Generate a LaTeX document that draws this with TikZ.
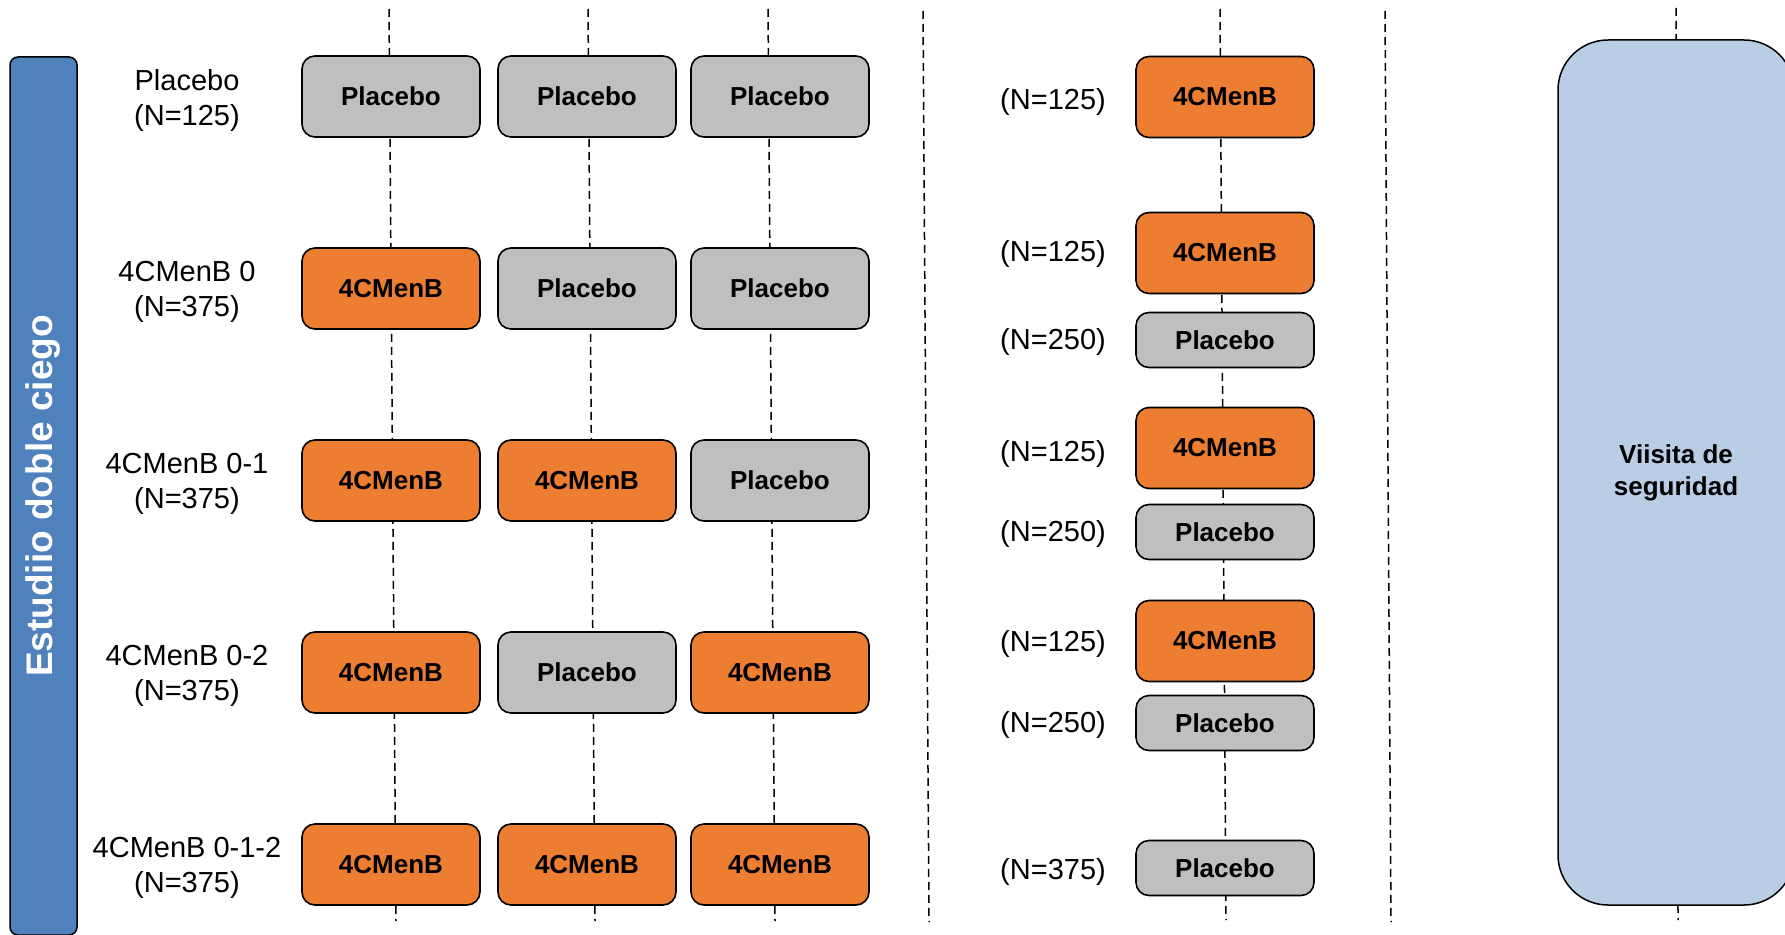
\documentclass[tikz,border=0pt]{standalone}
\usepackage{fontspec}
\setmainfont{Liberation Sans}
\definecolor{naranja}{HTML}{ED7D31}
\definecolor{gris}{HTML}{BFBFBF}
\definecolor{azul}{HTML}{4F81BD}
\definecolor{celeste}{HTML}{B9CDE5}
\tikzset{
  vacuna/.style={draw=black, line width=1.6pt, rounded corners=13pt, fill=naranja,
    minimum width=178pt, minimum height=81pt, inner sep=2pt,
    font=\fontsize{26}{30}\selectfont\bfseries},
  placebo/.style={vacuna, fill=gris},
  placebochico/.style={placebo, minimum height=55pt},
  grupo/.style={align=center, font=\fontsize{29}{35}\selectfont},
  cuenta/.style={font=\fontsize{29}{35}\selectfont},
  linea/.style={line width=1.5pt, dash pattern=on 8pt off 5pt}
}
\begin{document}
\begin{tikzpicture}[x=1pt, y=-1pt]
	\useasboundingbox (0,0) rectangle (1785,934);
	\clip (0,0) rectangle (1785,934);

	% time lines
	\coordinate (t1) at (389,9);   \coordinate (b1) at (396,921);
	\coordinate (t2) at (588,9);   \coordinate (b2) at (595,921);
	\coordinate (t3) at (768,9);   \coordinate (b3) at (775,921);
	\coordinate (ts1) at (923,11); \coordinate (bs1) at (929,922);
	\coordinate (t4) at (1220,9);  \coordinate (b4) at (1226,920);
	\coordinate (ts2) at (1385,11);\coordinate (bs2) at (1391,922);
	\coordinate (t5) at (1676,8);  \coordinate (b5) at (1678,920);
	\draw[linea] (t1) -- (b1);
	\draw[linea] (t2) -- (b2);
	\draw[linea] (t3) -- (b3);
	\draw[linea] (ts1) -- (bs1);
	\draw[linea] (t4) -- (b4);
	\draw[linea] (ts2) -- (bs2);
	\draw[linea] (t5) -- (b5);

	% double blind bar
	\node[draw=black, line width=1.5pt, fill=azul, rounded corners=8pt, rotate=90,
		minimum width=878pt, minimum height=67pt, inner sep=2pt, text=white,
		font=\fontsize{37}{40}\selectfont\bfseries] (estudio) at (43.5,496) {Estudiio doble ciego};

	% group labels
	\node[grupo] (g1) at (187,100) {Placebo\\(N=125)};
	\node[grupo] (g2) at (187,292) {4CMenB 0\\(N=375)};
	\node[grupo] (g3) at (187,484) {4CMenB 0-1\\(N=375)};
	\node[grupo] (g4) at (187,676) {4CMenB 0-2\\(N=375)};
	\node[grupo] (g5) at (187,868) {4CMenB 0-1-2\\(N=375)};

	% doses
	\node[placebo] (a1) at (391,96.5) {Placebo};
	\node[placebo] (a2) at (587,96.5) {Placebo};
	\node[placebo] (a3) at (780,96.5) {Placebo};
	\node[vacuna]  (b1n) at (391,288.5) {4CMenB};
	\node[placebo] (b2n) at (587,288.5) {Placebo};
	\node[placebo] (b3n) at (780,288.5) {Placebo};
	\node[vacuna]  (c1) at (391,480.5) {4CMenB};
	\node[vacuna]  (c2) at (587,480.5) {4CMenB};
	\node[placebo] (c3) at (780,480.5) {Placebo};
	\node[vacuna]  (d1) at (391,672.5) {4CMenB};
	\node[placebo] (d2) at (587,672.5) {Placebo};
	\node[vacuna]  (d3) at (780,672.5) {4CMenB};
	\node[vacuna]  (e1) at (391,864.5) {4CMenB};
	\node[vacuna]  (e2) at (587,864.5) {4CMenB};
	\node[vacuna]  (e3) at (780,864.5) {4CMenB};

	% booster
	\node[vacuna]       (r1) at (1225,97) {4CMenB};
	\node[vacuna]       (r2) at (1225,253) {4CMenB};
	\node[placebochico] (r3) at (1225,340) {Placebo};
	\node[vacuna]       (r4) at (1225,448) {4CMenB};
	\node[placebochico] (r5) at (1225,532) {Placebo};
	\node[vacuna]       (r6) at (1225,641) {4CMenB};
	\node[placebochico] (r7) at (1225,723) {Placebo};
	\node[placebochico] (r8) at (1225,868) {Placebo};
	\node[cuenta] (n1) at (1053,102) {(N=125)};
	\node[cuenta] (n2) at (1053,254) {(N=125)};
	\node[cuenta] (n3) at (1053,342) {(N=250)};
	\node[cuenta] (n4) at (1053,454) {(N=125)};
	\node[cuenta] (n5) at (1053,534) {(N=250)};
	\node[cuenta] (n6) at (1053,644) {(N=125)};
	\node[cuenta] (n7) at (1053,725) {(N=250)};
	\node[cuenta] (n8) at (1053,872) {(N=375)};

	% safety visit
	\node[draw=black, line width=1.5pt, fill=celeste, rounded corners=50pt,
		minimum width=236pt, minimum height=865pt, align=center,
		font=\fontsize{26}{32}\selectfont\bfseries] (visita) at (1676,472.5) {Viisita de\\seguridad};
\end{tikzpicture}
\end{document}
